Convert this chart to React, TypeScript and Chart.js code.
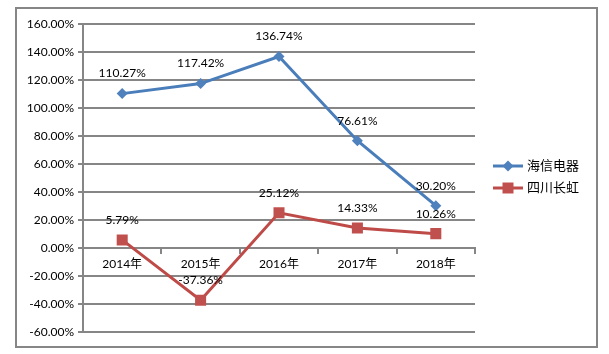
import React, { useEffect, useRef } from "react";
import { Chart, registerables } from "chart.js";

Chart.register(...registerables);

const categories = ["2014年", "2015年", "2016年", "2017年", "2018年"];
const seriesNames = ["海信电器", "四川长虹"];
const hisenseValues = [110.27, 117.42, 136.74, 76.61, 30.2];
const changhongValues = [5.79, -37.36, 25.12, 14.33, 10.26];
const yMin = -60;
const yMax = 160;
const yStep = 20;

const FONT = "Lato, 'Noto Sans CJK SC', sans-serif";
const GRID = "#868686";
const BLUE = "#4A7EBB";
const RED = "#BE4B48";

const labelPlugin = {
  id: "valueLabels",
  afterDatasetsDraw(chart: any) {
    const ctx = chart.ctx;
    ctx.save();
    ctx.font = `12px ${FONT}`;
    ctx.fillStyle = "#000";
    ctx.textAlign = "center";
    ctx.textBaseline = "middle";
    chart.data.datasets.forEach((ds: any, i: number) => {
      const meta = chart.getDatasetMeta(i);
      meta.data.forEach((pt: any, j: number) => {
        ctx.fillText(ds.data[j].toFixed(2) + "%", pt.x, pt.y - 20);
      });
    });
    ctx.restore();
  },
};

const legendPlugin = {
  id: "customLegend",
  afterDraw(chart: any) {
    const ctx = chart.ctx;
    ctx.save();
    const x0 = 493;
    const x1 = 523;
    const ys = [166, 188];
    chart.data.datasets.forEach((ds: any, i: number) => {
      const y = ys[i];
      ctx.strokeStyle = ds.borderColor;
      ctx.lineWidth = 3;
      ctx.beginPath();
      ctx.moveTo(x0, y);
      ctx.lineTo(x1, y);
      ctx.stroke();
      ctx.fillStyle = ds.pointBackgroundColor;
      ctx.beginPath();
      const cx = (x0 + x1) / 2;
      if (ds.pointStyle === "rectRot") {
        ctx.moveTo(cx - 5.5, y);
        ctx.lineTo(cx, y - 5.5);
        ctx.lineTo(cx + 5.5, y);
        ctx.lineTo(cx, y + 5.5);
        ctx.closePath();
      } else {
        ctx.rect(cx - 5.5, y - 5.5, 11, 11);
      }
      ctx.fill();
      ctx.fillStyle = "#000";
      ctx.font = `13px ${FONT}`;
      ctx.textAlign = "left";
      ctx.textBaseline = "middle";
      ctx.fillText(ds.label, 527, y);
    });
    ctx.restore();
  },
};

export default function App() {
  const ref = useRef<HTMLCanvasElement>(null);
  useEffect(() => {
    const chart = new Chart(ref.current!, {
      type: "line",
      data: {
        labels: categories,
        datasets: [
          {
            label: seriesNames[0],
            data: hisenseValues,
            borderColor: BLUE,
            backgroundColor: BLUE,
            pointBackgroundColor: "#4F81BD",
            pointBorderColor: "#4F81BD",
            borderWidth: 3,
            pointStyle: "rectRot",
            pointRadius: 5.5,
            pointBorderWidth: 0,
          },
          {
            label: seriesNames[1],
            data: changhongValues,
            borderColor: RED,
            backgroundColor: RED,
            pointBackgroundColor: "#C0504D",
            pointBorderColor: "#C0504D",
            borderWidth: 3,
            pointStyle: "rect",
            pointRadius: 7.8,
            pointBorderWidth: 0,
          },
        ],
      },
      options: {
        animation: false,
        responsive: false,
        devicePixelRatio: 1,
        layout: { padding: { left: 0, right: 134, top: 24, bottom: 22 } },
        plugins: {
          legend: { display: false },
          tooltip: { enabled: false },
        },
        scales: {
          x: {
            position: { y: 0 } as any,
            offset: true,
            grid: {
              display: true,
              offset: true,
              drawOnChartArea: false,
              drawTicks: true,
              tickLength: 5,
              color: GRID,
              lineWidth: 2,
            },
            border: { display: true, color: GRID, width: 2 },
            ticks: {
              color: "#000",
              font: { family: FONT, size: 12 },
              padding: 4,
              maxRotation: 0,
            },
          },
          y: {
            min: yMin,
            max: yMax,
            afterFit(scale: any) {
              scale.width = 83;
            },
            grid: {
              color: GRID,
              lineWidth: 2,
              drawTicks: true,
              tickLength: 5,
            },
            border: { display: true, color: GRID, width: 2 },
            ticks: {
              stepSize: yStep,
              color: "#000",
              font: { family: FONT, size: 12 },
              padding: 4,
              callback: (v: any) => Number(v).toFixed(2) + "%",
            },
          },
        },
      },
      plugins: [labelPlugin, legendPlugin],
    });
    return () => chart.destroy();
  }, []);
  return (
    <div style={{ position: "absolute", left: 0, top: 0, width: 609, height: 354, background: "#fff" }}>
      <div
        style={{
          position: "absolute",
          left: 15,
          top: 7,
          width: 579,
          height: 337,
          border: "2px solid #868686",
        }}
      />
      <canvas ref={ref} width={609} height={354} style={{ position: "absolute", left: 0, top: 0 }} />
    </div>
  );
}
